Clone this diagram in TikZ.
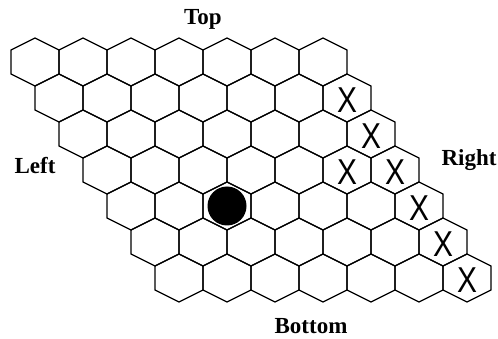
\documentclass[tikz,border=0pt]{standalone}
\usepackage{fontspec}
\setmainfont{Liberation Serif}
\newfontfamily\xfont{Liberation Sans}

\begin{document}
\begin{tikzpicture}[
    x=1pt, y=-1pt,
    cell/.style={draw=black, line width=1.3pt},
    side/.style={font=\fontsize{23}{27}\selectfont\bfseries, anchor=base, inner sep=0pt},
    stone/.style={circle, fill=black, minimum size=39pt, inner sep=0pt},
    xmark/.style={font=\xfont\fontsize{36}{40}\selectfont, inner sep=0pt, yshift=-2pt},
]
    \useasboundingbox (0,0) rectangle (498,339);
    % board 7x7
    \foreach \r in {0,...,6}
      \foreach \c in {0,...,6} {
        \coordinate (c\r\c) at ({35+24*\r+48*\c},{62+36*\r});
        \draw[cell] (c\r\c) +(0,-24) -- +(24,-12) -- +(24,12) -- +(0,24) -- +(-24,12) -- +(-24,-12) -- cycle;
      }

    \node[stone] (stone) at (c42) {};
    \foreach \cc in {16,26,35,36,46,56,66}
      \node[xmark] (x\cc) at (c\cc) {\scalebox{0.83}[1]{X}};

    \node[side] (top) at (203,25) {Top};
    \node[side] (left) at (35,174) {Left};
    \node[side] (right) at (469,166) {Right};
    \node[side] (bottom) at (311,333) {Bottom};
\end{tikzpicture}
\end{document}
